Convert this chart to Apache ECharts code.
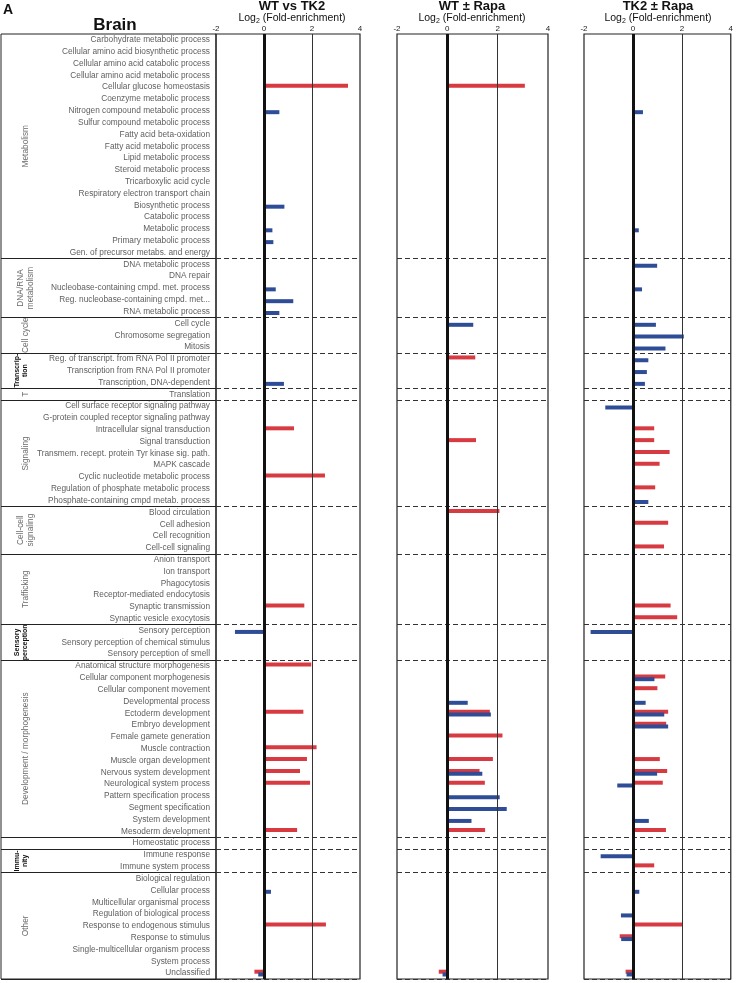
<!DOCTYPE html>
<html><head><meta charset="utf-8">
<script src="https://cdn.jsdelivr.net/npm/echarts@6/dist/echarts.min.js"></script>
<style>html,body{margin:0;padding:0;background:#fff}#c{width:736px;height:983px}</style>
</head><body><div id="c"></div>
<script>
const _ = null;
const categories = [
'Carbohydrate metabolic process','Cellular amino acid biosynthetic process','Cellular amino acid catabolic process','Cellular amino acid metabolic process','Cellular glucose homeostasis','Coenzyme metabolic process','Nitrogen compound metabolic process','Sulfur compound metabolic process','Fatty acid beta-oxidation','Fatty acid metabolic process','Lipid metabolic process','Steroid metabolic process','Tricarboxylic acid cycle','Respiratory electron transport chain','Biosynthetic process','Catabolic process','Metabolic process','Primary metabolic process','Gen. of precursor metabs. and energy',
'DNA metabolic process','DNA repair','Nucleobase-containing cmpd. met. process','Reg. nucleobase-containing cmpd. met...','RNA metabolic process',
'Cell cycle','Chromosome segregation','Mitosis',
'Reg. of transcript. from RNA Pol II promoter','Transcription from RNA Pol II promoter','Transcription, DNA-dependent',
'Translation',
'Cell surface receptor signaling pathway','G-protein coupled receptor signaling pathway','Intracellular signal transduction','Signal transduction','Transmem. recept. protein Tyr kinase sig. path.','MAPK cascade','Cyclic nucleotide metabolic process','Regulation of phosphate metabolic process','Phosphate-containing cmpd metab. process',
'Blood circulation','Cell adhesion','Cell recognition','Cell-cell signaling',
'Anion transport','Ion transport','Phagocytosis','Receptor-mediated endocytosis','Synaptic transmission','Synaptic vesicle exocytosis',
'Sensory perception','Sensory perception of chemical stimulus','Sensory perception of smell',
'Anatomical structure morphogenesis','Cellular component morphogenesis','Cellular component movement','Developmental process','Ectoderm development','Embryo development','Female gamete generation','Muscle contraction','Muscle organ development','Nervous system development','Neurological system process','Pattern specification process','Segment specification','System development','Mesoderm development',
'Homeostatic process',
'Immune response','Immune system process',
'Biological regulation','Cellular process','Multicellular organismal process','Regulation of biological process','Response to endogenous stimulus','Response to stimulus','Single-multicellular organism process','System process','Unclassified'];

const groupNames = ['Metabolism','DNA/RNA\nmetabolism','Cell cycle','Transcrip-\ntion','T','Signaling','Cell-cell\nsignaling','Trafficking','Sensory\nperception','Development / morphogenesis','','Immu-\nnity','Other'];
const groupSizes = [19,5,3,3,1,9,4,6,3,15,1,2,9];
const groupBold = [false,false,false,true,false,false,false,false,true,false,false,true,false];

const panelTitles = ['WT vs TK2','WT \u00b1 Rapa','TK2 \u00b1 Rapa'];
const axisTitle = 'Log{s|2} (Fold-enrichment)';
const xTicks = [-2, 0, 2, 4];

// Panel 1: WT vs TK2
const wtVsTk2Red = [
_,_,_,_,3.5,_,_,_,_,_,
_,_,_,_,_,_,_,_,_,_,
_,_,_,_,_,_,_,_,_,_,
_,_,_,1.25,_,_,_,2.54,_,_,
_,_,_,_,_,_,_,_,1.68,_,
_,_,_,1.97,_,_,_,1.64,_,_,
2.19,1.79,1.5,1.92,_,_,_,1.38,_,_,
_,_,_,_,_,2.58,_,_,_,-0.4];
const wtVsTk2Blue = [
_,_,_,_,_,_,0.64,_,_,_,
_,_,_,_,0.85,_,0.35,0.39,_,_,
_,0.49,1.22,0.64,_,_,_,_,_,0.83,
_,_,_,_,_,_,_,_,_,_,
_,_,_,_,_,_,_,_,_,_,
-1.21,_,_,_,_,_,_,_,_,_,
_,_,_,_,_,_,_,_,_,_,
_,_,0.29,_,_,_,_,_,_,-0.24];
// Panel 2: WT ± Rapa
const wtRapaRed = [
_,_,_,_,3.08,_,_,_,_,_,
_,_,_,_,_,_,_,_,_,_,
_,_,_,_,_,_,_,1.11,_,_,
_,_,_,_,1.14,_,_,_,_,_,
2.07,_,_,_,_,_,_,_,_,_,
_,_,_,_,_,_,_,1.69,_,2.19,
_,1.81,1.28,1.49,_,_,_,1.5,_,_,
_,_,_,_,_,_,_,_,_,-0.34];
const wtRapaBlue = [
_,_,_,_,_,_,_,_,_,_,
_,_,_,_,_,_,_,_,_,_,
_,_,_,_,1.03,_,_,_,_,_,
_,_,_,_,_,_,_,_,_,_,
_,_,_,_,_,_,_,_,_,_,
_,_,_,_,_,_,0.81,1.73,_,_,
_,_,1.39,_,2.08,2.36,0.96,_,_,_,
_,_,_,_,_,_,_,_,_,-0.19];
// Panel 3: TK2 ± Rapa
const tk2RapaRed = [
_,_,_,_,_,_,_,_,_,_,
_,_,_,_,_,_,_,_,_,_,
_,_,_,_,_,_,_,_,_,_,
_,_,_,0.87,0.87,1.5,1.09,_,0.91,_,
_,1.44,_,1.27,_,_,_,_,1.54,1.81,
_,_,_,_,1.32,1.0,_,1.44,1.36,_,
_,1.1,1.4,1.22,_,_,_,1.35,_,_,
0.87,_,_,_,_,2.04,-0.54,_,_,-0.3];
const tk2RapaBlue = [
_,_,_,_,_,_,0.41,_,_,_,
_,_,_,_,_,_,0.24,_,_,0.99,
_,0.37,_,_,0.94,2.08,1.33,0.63,0.57,0.49,
_,-1.13,_,_,_,_,_,_,_,0.63,
_,_,_,_,_,_,_,_,_,_,
-1.73,_,_,_,0.88,_,0.52,1.28,1.44,_,
_,_,0.99,-0.64,_,_,0.65,_,_,-1.32,
_,_,0.26,_,-0.49,_,-0.48,_,_,-0.26];

const panelRed = [wtVsTk2Red, wtRapaRed, tk2RapaRed];
const panelBlue = [wtVsTk2Blue, wtRapaBlue, tk2RapaBlue];

// ---- layout / style ----
const FONT = '"Liberation Sans", Arial, Helvetica, sans-serif';
const RED = '#d83a41', BLUE = '#2e4d96';
const TOP = 34, HEIGHT = 945;
const panelLeft = [216, 397, 584];
const panelWidth = [144, 151, 148];
const titleX = [292, 472, 658];

const boundaries = new Set();
{ let s = 0; groupSizes.forEach((n, i) => { if (i > 0) boundaries.add(s); s += n; }); }

const chart = echarts.init(document.getElementById('c'), null, {renderer: 'canvas'});

const grids = [{left: 1, top: TOP, width: 215, height: HEIGHT, show: true, borderColor: '#222', borderWidth: 1, backgroundColor: 'transparent'}];
panelLeft.forEach((l, i) => grids.push({left: l, top: TOP, width: panelWidth[i], height: HEIGHT, show: true, borderColor: '#222', borderWidth: 1.2, backgroundColor: 'transparent'}));

const xAxes = [{gridIndex: 0, type: 'value', show: false, min: 0, max: 1}];
const yAxes = [{
  gridIndex: 0, type: 'category', data: categories, inverse: true,
  axisLabel: {show: false}, axisTick: {show: false}, axisLine: {show: false},
  splitLine: {show: true, interval: (idx) => boundaries.has(idx), lineStyle: {color: '#222', width: 1, type: 'solid'}}
}];
const series = [];
for (let p = 0; p < 3; p++) {
  xAxes.push({
    gridIndex: p + 1, type: 'value', position: 'top', min: xTicks[0], max: xTicks[xTicks.length - 1], interval: 2,
    axisLine: {show: false}, axisTick: {show: false}, splitLine: {show: false},
    axisLabel: {fontSize: 8, color: '#222', margin: 1, fontFamily: FONT, showMinLabel: true, showMaxLabel: true}
  });
  yAxes.push({
    gridIndex: p + 1, type: 'category', data: categories, inverse: true,
    axisTick: {show: false}, axisLine: {show: false},
    axisLabel: {show: p === 0, interval: 0, fontSize: 8.3, color: '#606060', margin: 6, fontFamily: FONT},
    splitLine: {show: true, interval: (idx) => boundaries.has(idx), lineStyle: {color: '#333', width: 1.1, type: [5, 3]}}
  });
  series.push({
    type: 'bar', name: 'red' + p, xAxisIndex: p + 1, yAxisIndex: p + 1, data: panelRed[p],
    barWidth: 4, barGap: '-30%', itemStyle: {color: RED}, silent: true, animation: false, z: 3,
    markLine: {
      silent: true, symbol: ['none', 'none'], label: {show: false}, animation: false,
      data: [
        {xAxis: 0, lineStyle: {color: '#111', width: 3, type: 'solid'}},
        {xAxis: 2, lineStyle: {color: '#333', width: 1, type: 'solid'}}
      ]
    }
  });
  series.push({
    type: 'bar', name: 'blue' + p, xAxisIndex: p + 1, yAxisIndex: p + 1, data: panelBlue[p],
    barWidth: 4, barGap: '-30%', itemStyle: {color: BLUE}, silent: true, animation: false, z: 3
  });
}

const graphics = [];
graphics.push({type: 'text', x: 3, y: 10, style: {text: 'A', font: 'bold 14px ' + FONT, fill: '#111', align: 'left', verticalAlign: 'middle', textAlign: 'left', textVerticalAlign: 'middle'}});
graphics.push({type: 'text', x: 115, y: 25, style: {text: 'Brain', font: 'bold 17px ' + FONT, fill: '#111', align: 'center', verticalAlign: 'middle', textAlign: 'center', textVerticalAlign: 'middle'}});
panelTitles.forEach((t, i) => {
  graphics.push({type: 'text', x: titleX[i], y: 6, style: {text: t, font: 'bold 13px ' + FONT, fill: '#111', align: 'center', verticalAlign: 'middle', textAlign: 'center', textVerticalAlign: 'middle'}});
  graphics.push({type: 'text', x: titleX[i], y: 18.5, style: {text: axisTitle, font: '10.5px ' + FONT, fill: '#111', align: 'center', verticalAlign: 'middle', textAlign: 'center', textVerticalAlign: 'middle',
    rich: {s: {fontSize: 7, fontFamily: FONT, fill: '#111', padding: [5, 0, 0, 0]}}}});
});
{
  const rowH = HEIGHT / categories.length;
  let s = 0;
  groupSizes.forEach((n, i) => {
    const cy = TOP + (s + n / 2) * rowH;
    s += n;
    if (!groupNames[i]) return;
    const bold = groupBold[i];
    graphics.push({type: 'text', x: bold ? 21 : 26, y: cy, rotation: Math.PI / 2, style: {
      text: groupNames[i], font: (bold ? 'bold 7px ' : '8.3px ') + FONT, fill: bold ? '#111' : '#6a6a6a',
      lineHeight: bold ? 8 : 10, align: 'center', verticalAlign: 'middle', textAlign: 'center', textVerticalAlign: 'middle'}});
  });
}

chart.setOption({
  animation: false,
  backgroundColor: '#fff',
  grid: grids, xAxis: xAxes, yAxis: yAxes, series: series, graphic: graphics
});
</script></body></html>
